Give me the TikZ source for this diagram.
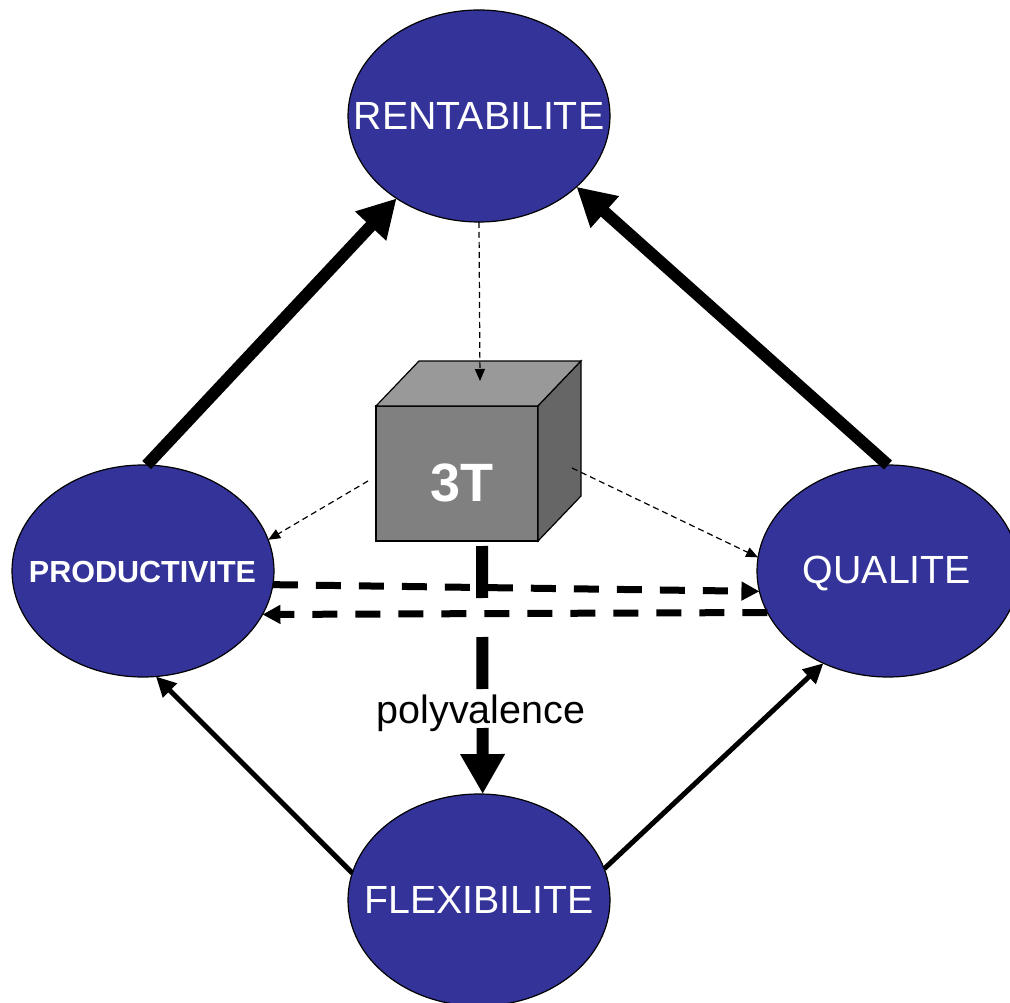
\documentclass[tikz,border=0pt]{standalone}
\usepackage{fontspec}
\setmainfont{Liberation Sans}
\usetikzlibrary{arrows.meta,shapes.geometric}
\definecolor{poleblue}{RGB}{51,51,153}
\definecolor{cubefront}{RGB}{128,128,128}
\definecolor{cubetop}{RGB}{153,153,153}
\definecolor{cubeside}{RGB}{102,102,102}
\begin{document}
\begin{tikzpicture}[x=1pt,y=-1pt,
  pole/.style={ellipse, draw=black, line width=1.2pt, fill=poleblue,
    minimum width=262pt, minimum height=212pt, inner sep=0pt, outer sep=0pt},
  poletext/.style={text=white, font=\fontsize{39.3}{45}\selectfont, inner sep=0pt},
  strong/.style={line width=12pt, -{Triangle[length=38pt,width=40pt]}},
  link/.style={line width=5pt, -{Triangle[length=20pt,width=19pt]}},
  exchange/.style={line width=7pt, dash pattern=on 25pt off 18pt,
    -{Triangle[length=18pt,width=18pt]}},
  hint/.style={line width=1.2pt, dash pattern=on 6pt off 4pt,
    -{Triangle[length=12pt,width=10pt]}},
  skill/.style={line width=12pt, dash pattern=on 52pt off 39pt,
    -{Triangle[length=40pt,width=42pt]}},
  face/.style={draw=black, line width=1.2pt, line join=miter},
]
\useasboundingbox (0,0) rectangle (1010,1003);

% the four poles
\node[pole] (rent) at (479,116) {};
\node[poletext] (rentlbl) at (rent) {RENTABILITE};
\node[pole] (prod) at (143,571) {};
\node[text=white, inner sep=0pt, font=\bfseries\fontsize{30.5}{36}\selectfont] (prodlbl) at (142.5,572) {PRODUCTIVITE};
\node[pole] (qual) at (888,571) {};
\node[poletext] (quallbl) at (887,573) {QUALITE};
\node[pole] (flex) at (479,900) {};
\node[poletext] (flexlbl) at (flex) {FLEXIBILITE};

% the 3T cube
\node[face, fill=cubefront, minimum width=162pt, minimum height=135pt,
  inner sep=0pt, outer sep=0pt] (cube) at (457,473.5) {};
\filldraw[face, fill=cubetop] (cube.north west) -- ++(43,-45) -- ++(162,0)
  -- (cube.north east) -- cycle;
\filldraw[face, fill=cubeside] (cube.north east) -- ++(43,-45) -- ++(0,135)
  -- (cube.south east) -- cycle;
\node[text=white, inner sep=0pt, font=\bfseries\fontsize{54}{60}\selectfont] (tt) at (462,483) {3T};

% loose ends of the links around the cube
\coordinate (topface) at (480,381);
\coordinate (leftside) at (368,481);
\coordinate (rightside) at (572,468);
\coordinate (below) at (482,546);

% links
\draw[strong] (prod.88) -- (rent.225);
\draw[strong] (qual.90) -- (rent.324);
\draw[link] (flex.168) -- (prod.277);
\draw[link] (flex.14) -- (qual.235);
\draw[exchange] (prod.-6) -- (qual.189);
\draw[exchange] (qual.199) -- (prod.340);
\draw[hint] (rent.270) -- (topface);
\draw[hint] (leftside) -- (prod.14);
\draw[hint] (rightside) -- (qual.174);
\draw[skill] (below) -- (flex.88.5);
\node[inner sep=0pt, font=\fontsize{39.5}{45}\selectfont] (pv) at (481,713) {polyvalence};
\end{tikzpicture}
\end{document}
